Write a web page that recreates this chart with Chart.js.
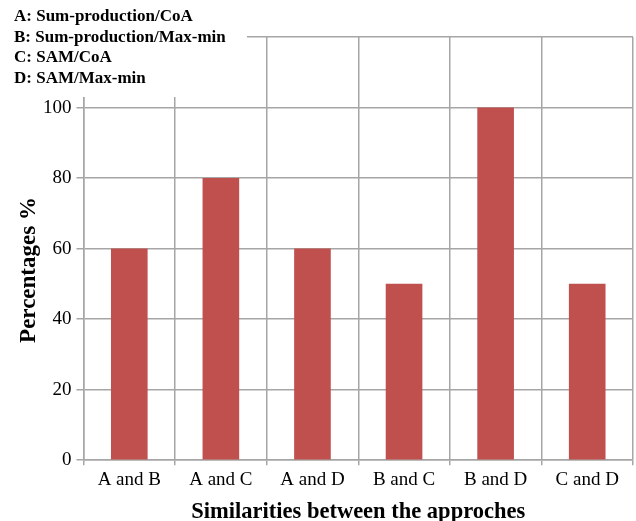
<!DOCTYPE html>
<html>
<head>
<meta charset="utf-8">
<script src="https://cdn.jsdelivr.net/npm/chart.js@4/dist/chart.umd.min.js"></script>
<style>
html,body{margin:0;padding:0;background:#fff;}
#wrap{width:636px;height:521px;position:relative;}
</style>
</head>
<body>
<div id="wrap"><canvas id="c" width="636" height="521"></canvas></div>
<script>
const categories = ["A and B", "A and C", "A and D", "B and C", "B and D", "C and D"];
const percentages = [60, 80, 60, 50, 100, 50];
const yTicks = [0, 20, 40, 60, 80, 100];
const legendLines = ["A: Sum-production/CoA", "B: Sum-production/Max-min", "C: SAM/CoA", "D: SAM/Max-min"];
const xTitle = "Similarities between the approches";
const yTitle = "Percentages %";

const serif = "'Liberation Serif', 'Times New Roman', serif";
const gridColor = "#a6a6a6";

const overlay = {
  id: 'overlay',
  afterDraw(chart) {
    const ctx = chart.ctx;
    ctx.save();
    // legend text box
    ctx.fillStyle = '#ffffff';
    ctx.fillRect(0, 0, 247, 97);
    ctx.fillStyle = '#000';
    ctx.font = "bold 17px " + serif;
    ctx.textBaseline = 'middle';
    ctx.textAlign = 'left';
    legendLines.forEach((t, i) => ctx.fillText(t, 14, 17 + i * 20.5));
    // y axis title
    ctx.translate(29, 270);
    ctx.rotate(-Math.PI / 2);
    ctx.textAlign = 'center';
    ctx.font = "bold 23px " + serif;
    ctx.fillText(yTitle, 0, 0);
    ctx.restore();
  }
};

new Chart(document.getElementById('c'), {
  type: 'bar',
  data: {
    labels: categories,
    datasets: [{
      data: percentages,
      backgroundColor: '#c0504d',
      borderWidth: 0,
      barPercentage: 0.4,
      categoryPercentage: 1.0
    }]
  },
  options: {
    responsive: false,
    animation: false,
    devicePixelRatio: 1,
    layout: { padding: { top: 37, right: 3, left: 38, bottom: -5 } },
    plugins: { legend: { display: false }, tooltip: { enabled: false } },
    scales: {
      x: {
        grid: { color: gridColor, lineWidth: 1.5, offset: true, drawTicks: true, tickLength: 5 },
        border: { color: gridColor, width: 1.5 },
        ticks: { color: '#000', font: { family: serif, size: 19 }, padding: 3, maxRotation: 0 },
        title: { display: true, text: xTitle, color: '#000', font: { family: serif, size: 22.5, weight: 'bold' }, padding: { top: 5, bottom: 0 } }
      },
      y: {
        min: 0, max: 120,
        afterBuildTicks(axis) { axis.ticks = yTicks.concat([120]).map(v => ({ value: v })); },
        grid: { color: gridColor, lineWidth: 1.5, drawTicks: true, tickLength: 7 },
        border: { color: gridColor, width: 1.5 },
        ticks: {
          color: '#000', font: { family: serif, size: 19 }, padding: 5,
          callback: (v) => yTicks.includes(v) ? String(v) : ''
        }
      }
    }
  },
  plugins: [overlay]
});
</script>
</body>
</html>
